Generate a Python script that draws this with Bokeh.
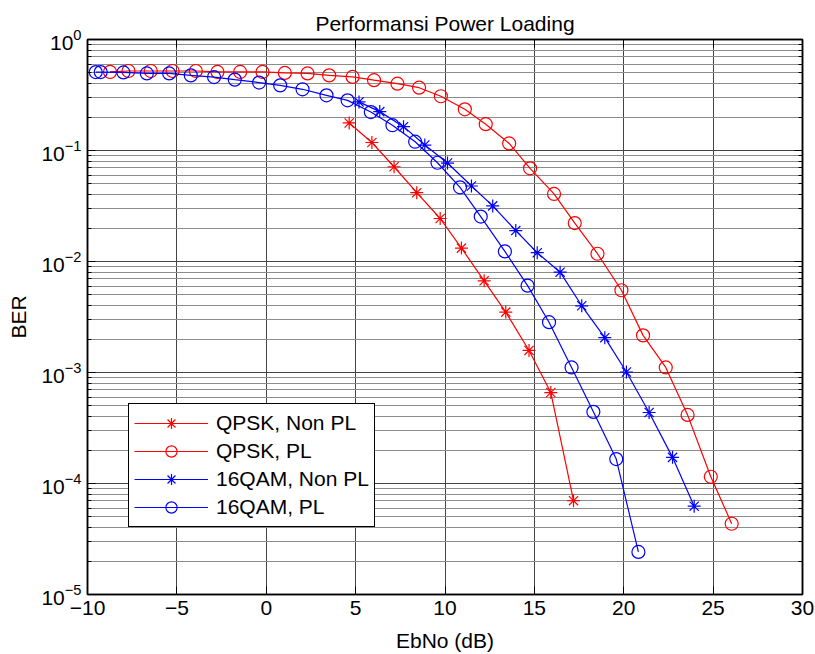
from bokeh.plotting import figure
from bokeh.models import Range1d, LinearAxis, LogAxis, Legend, LegendItem, FixedTicker
from bokeh.embed import file_html
from bokeh.resources import INLINE

# ---- data ----
qpsk_nonpl_x = [4.64, 5.91, 7.15, 8.42, 9.73, 10.92, 12.19, 13.40, 14.70, 15.92, 17.19]
qpsk_nonpl_y = [0.177, 0.118, 0.0714, 0.0417, 0.0244, 0.0132, 0.0067, 0.0035, 0.00158, 0.00066, 7.0e-5]

qpsk_pl_x = [-8.74, -7.71, -6.46, -5.24, -3.94, -2.73, -1.46, -0.21, 1.04, 2.31, 3.52, 4.83,
             6.03, 7.34, 8.55, 9.77, 11.11, 12.28, 13.59, 14.76, 16.10, 17.26, 18.53, 19.87,
             21.08, 22.35, 23.57, 24.87, 26.04]
qpsk_pl_y = [0.51, 0.52, 0.52, 0.52, 0.52, 0.51, 0.51, 0.51, 0.50, 0.495, 0.475, 0.46,
             0.43, 0.40, 0.368, 0.308, 0.235, 0.1726, 0.1158, 0.0691, 0.0406, 0.0222, 0.01175, 0.00551,
             0.00216, 0.00111, 0.000415, 0.000115, 4.34e-5]

qam_nonpl_x = [5.19, 6.35, 7.68, 8.87, 10.14, 11.48, 12.67, 13.96, 15.16, 16.44, 17.65, 18.94,
               20.15, 21.42, 22.73, 23.94]
qam_nonpl_y = [0.274, 0.224, 0.164, 0.112, 0.0771, 0.0479, 0.0317, 0.0190, 0.0120, 0.00801, 0.00399,
               0.00206, 0.00101, 0.000436, 0.000172, 6.25e-5]

qam_pl_x = [-9.54, -9.26, -7.99, -6.68, -5.43, -4.22, -2.92, -1.76, -0.40, 0.78, 2.03, 3.37, 4.55,
            5.85, 7.06, 8.33, 9.58, 10.84, 12.00, 13.35, 14.62, 15.82, 17.08, 18.30, 19.58, 20.82]
qam_pl_y = [0.509, 0.509, 0.505, 0.495, 0.495, 0.475, 0.459, 0.435, 0.409, 0.386, 0.356, 0.314, 0.283,
            0.222, 0.169, 0.120, 0.0776, 0.0466, 0.0254, 0.01233, 0.00606, 0.00284, 0.00111, 0.000442,
            0.000166, 2.42e-5]

x_ticks = [-10, -5, 0, 5, 10, 15, 20, 25, 30]
y_ticks = [1e-5, 1e-4, 1e-3, 1e-2, 1e-1, 1e0]
y_minor = [m * 10.0 ** e for e in range(-5, 0) for m in range(2, 10)]

labels = ["QPSK, Non PL", "QPSK, PL", "16QAM, Non PL", "16QAM, PL"]

FONT = "Liberation Sans"
RED = "#ff0000"
BLUE = "#0000ff"

p = figure(width=815, height=654, x_range=Range1d(-10, 30), y_range=Range1d(1e-5, 1),
           y_axis_type="log", output_backend="svg", toolbar_location=None,
           min_border_left=87, min_border_right=13, min_border_top=39, min_border_bottom=58)

p.title.text = "Performansi Power Loading"
p.title.align = "center"
p.title.text_font = FONT
p.title.text_font_size = "21px"
p.title.text_font_style = "normal"
p.title.text_color = "black"
p.title.standoff = 9

xt = FixedTicker(ticks=x_ticks)
yt = FixedTicker(ticks=y_ticks, minor_ticks=y_minor)

bottom = p.xaxis[0]
left = p.yaxis[0]
bottom.ticker = xt
left.ticker = yt
bottom.axis_label = "EbNo (dB)"
left.axis_label = "BER"

top = LinearAxis(ticker=xt, major_label_text_font_size="1px", major_label_text_alpha=0,
                 major_label_standoff=0)
right = LogAxis(ticker=yt, major_label_text_font_size="1px", major_label_text_alpha=0,
                major_label_standoff=0)
p.add_layout(top, "above")
p.add_layout(right, "right")

for ax in [bottom, left, top, right]:
    ax.axis_line_color = "black"
    ax.axis_line_width = 1.5
    ax.major_tick_line_color = "black"
    ax.minor_tick_line_color = "black"
    ax.major_tick_in = 8
    ax.major_tick_out = 0
    ax.minor_tick_in = 4
    ax.minor_tick_out = 0
    ax.major_label_text_font = FONT

for ax in [bottom, left]:
    ax.major_label_text_font_size = "21px"
    ax.axis_label_text_font_size = "21px"
    ax.axis_label_text_font = FONT
    ax.axis_label_text_font_style = "normal"
    ax.major_label_text_color = "black"
    ax.axis_label_text_color = "black"
    ax.major_label_standoff = 6

bottom.axis_label_standoff = 11
left.axis_label_standoff = 8

bottom.minor_tick_line_color = None
top.minor_tick_line_color = None

p.xgrid.grid_line_color = "#444444"
p.ygrid.grid_line_color = "#444444"
p.ygrid.minor_grid_line_color = "#8c8c8c"
p.outline_line_color = "black"
p.outline_line_width = 1.5

l1 = p.line(qpsk_nonpl_x, qpsk_nonpl_y, line_color=RED, line_width=1.2)
m1 = p.scatter(qpsk_nonpl_x, qpsk_nonpl_y, marker="asterisk", size=13, line_color=RED, line_width=1.2)
l2 = p.line(qpsk_pl_x, qpsk_pl_y, line_color=RED, line_width=1.2)
m2 = p.scatter(qpsk_pl_x, qpsk_pl_y, marker="circle", size=13, line_color=RED, fill_color=None, line_width=1.2)
l3 = p.line(qam_nonpl_x, qam_nonpl_y, line_color=BLUE, line_width=1.2)
m3 = p.scatter(qam_nonpl_x, qam_nonpl_y, marker="asterisk", size=13, line_color=BLUE, line_width=1.2)
l4 = p.line(qam_pl_x, qam_pl_y, line_color=BLUE, line_width=1.2)
m4 = p.scatter(qam_pl_x, qam_pl_y, marker="circle", size=13, line_color=BLUE, fill_color=None, line_width=1.2)

legend = Legend(items=[LegendItem(label=labels[0], renderers=[l1, m1]),
                       LegendItem(label=labels[1], renderers=[l2, m2]),
                       LegendItem(label=labels[2], renderers=[l3, m3]),
                       LegendItem(label=labels[3], renderers=[l4, m4])],
                location=(41, 67))
legend.border_line_color = "black"
legend.border_line_alpha = 1
legend.border_line_width = 1.2
legend.background_fill_color = "white"
legend.background_fill_alpha = 1
legend.label_text_font = FONT
legend.label_text_font_size = "21px"
legend.label_text_color = "black"
legend.glyph_width = 74
legend.glyph_height = 28
legend.label_height = 28
legend.spacing = 0
legend.padding = 5
legend.label_standoff = 8
legend.margin = 0
p.add_layout(legend)

open("out.html", "w").write(file_html(p, INLINE))
